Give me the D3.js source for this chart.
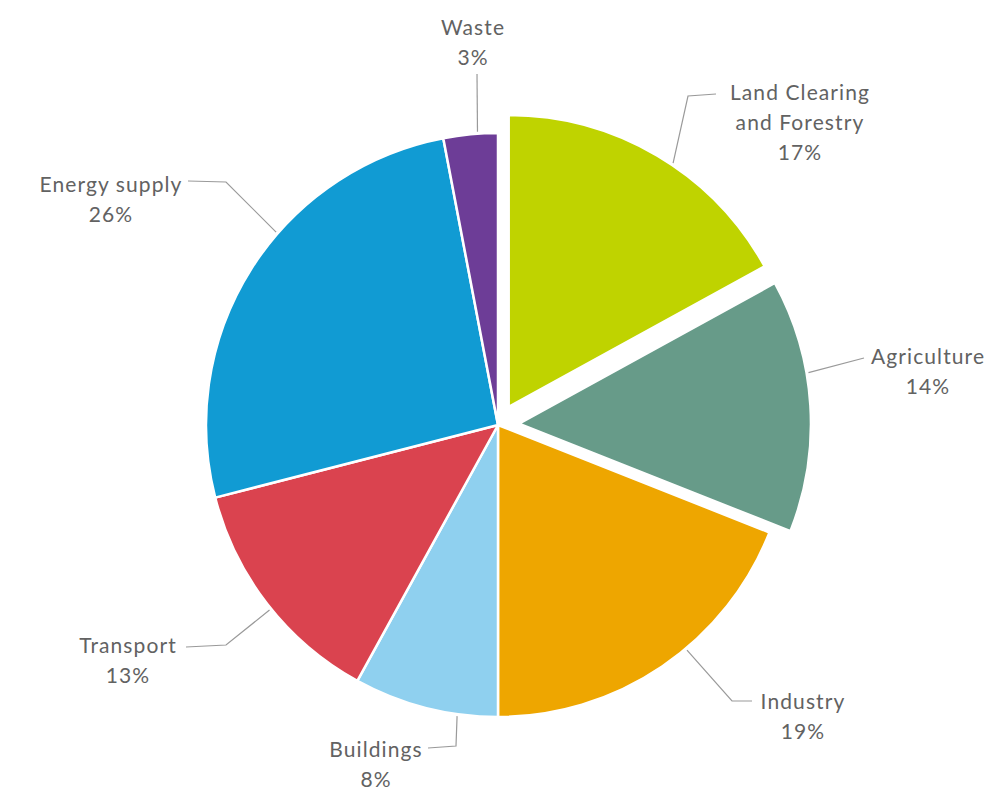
<!DOCTYPE html>
<html>
<head>
<meta charset="utf-8">
<script src="https://cdn.jsdelivr.net/npm/d3@7"></script>
<style>
  html, body { margin: 0; padding: 0; background: #fff; }
  svg text { font-family: Lato, "Open Sans", sans-serif; fill: #626262; }
</style>
</head>
<body>
<svg id="chart" width="992" height="792"></svg>
<script>
// emissions share by sector (%), clockwise from 12 o'clock
const SECTORS = ["Land Clearing and Forestry", "Agriculture", "Industry", "Buildings", "Transport", "Energy supply", "Waste"]
const SHARES = [17, 14, 19, 8, 13, 26, 3]
const LABEL_LINES = [
  ["Land Clearing", "and Forestry", "17%"],
  ["Agriculture", "14%"],
  ["Industry", "19%"],
  ["Buildings", "8%"],
  ["Transport", "13%"],
  ["Energy supply", "26%"],
  ["Waste", "3%"],
]
const EXPLODED = ["Land Clearing and Forestry", "Agriculture"]

const COLORS = ["#bfd300", "#679b89", "#eea600", "#8fd0ef", "#da434f", "#119bd3", "#6d3d97"]

// label layout: anchor angle on rim (deg), leader bend points, text position
const LAYOUT = [
  { angle: 34, pts: [[688, 96], [716, 94]], x: 800, y: 100 },
  { angle: 80, pts: [[864, 358]], x: 928, y: 364 },
  { angle: 140, pts: [[732, 701], [752, 701]], x: 803, y: 709 },
  { angle: 188, pts: [[456, 746], [428, 748]], x: 376, y: 757 },
  { angle: 231, pts: [[226, 645], [186, 647]], x: 128, y: 653 },
  { angle: 311, pts: [[226, 182], [188, 181]], x: 111, y: 192 },
  { angle: 356, pts: [[477, 74]], x: 473, y: 35 },
]

const svg = d3.select("#chart")
const cx = 498
const cy = 425
const radius = 292
const explodeBy = 21

const pie = d3.pie().sort(null).value((d) => d)
const arcs = pie(SHARES)
const arc = d3.arc().innerRadius(0).outerRadius(radius)

const offsetOf = (d, i) => {
  if (!EXPLODED.includes(SECTORS[i])) return [0, 0]
  const mid = (d.startAngle + d.endAngle) / 2
  return [Math.sin(mid) * explodeBy, -Math.cos(mid) * explodeBy]
}

const g = svg.append("g").attr("transform", `translate(${cx},${cy})`)

g.selectAll("path.slice")
  .data(arcs)
  .join("path")
  .attr("class", "slice")
  .attr("d", arc)
  .attr("fill", (d, i) => COLORS[i])
  .attr("stroke", "#ffffff")
  .attr("stroke-width", 2.5)
  .attr("stroke-linejoin", "round")
  .attr("transform", (d, i) => `translate(${offsetOf(d, i)})`)

// leader lines + labels
const line = d3.line()
arcs.forEach((d, i) => {
  const L = LAYOUT[i]
  const [ox, oy] = offsetOf(d, i)
  const a = (L.angle * Math.PI) / 180
  const start = [cx + ox + Math.sin(a) * (radius + 2), cy + oy - Math.cos(a) * (radius + 2)]
  svg.append("path")
    .attr("d", line([start, ...L.pts]))
    .attr("fill", "none")
    .attr("stroke", "#9a9a9a")
    .attr("stroke-width", 1.2)

  const t = svg.append("text")
    .attr("x", L.x)
    .attr("y", L.y)
    .attr("text-anchor", "middle")
    .attr("font-size", 21)
    .attr("letter-spacing", 1.1)
  LABEL_LINES[i].forEach((s, k) => {
    t.append("tspan").attr("x", L.x).attr("dy", k === 0 ? 0 : 30).text(s)
  })
})
</script>
</body>
</html>
